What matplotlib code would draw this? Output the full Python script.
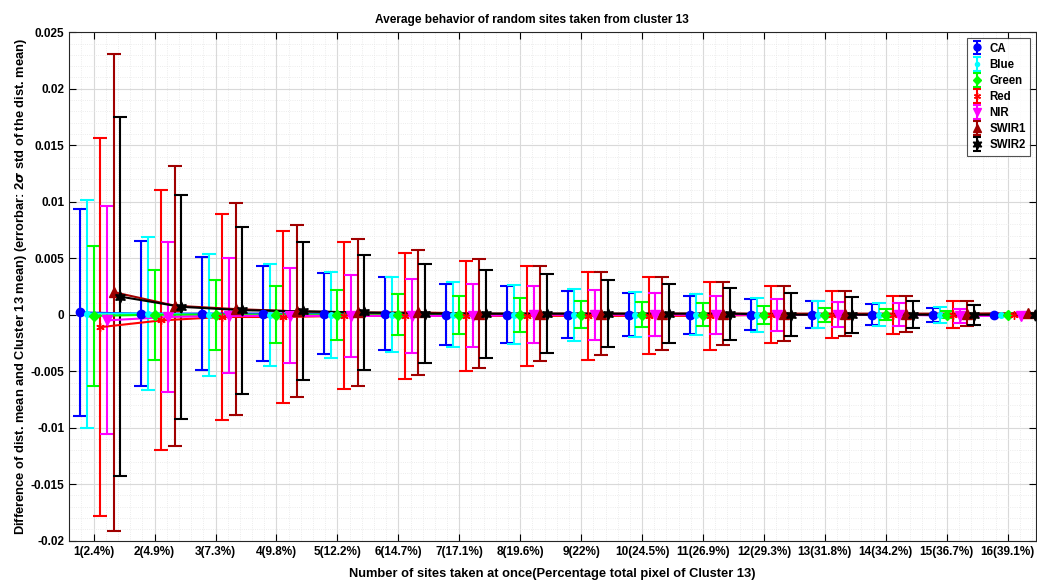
import matplotlib
matplotlib.use("Agg")
import matplotlib.pyplot as plt
import numpy as np
from matplotlib.ticker import MultipleLocator, FormatStrFormatter
from matplotlib.legend_handler import HandlerErrorbar

plt.rcParams['font.family'] = ['Liberation Sans', 'DejaVu Sans']
plt.rcParams['font.weight'] = 'bold'

# x tick labels: number of sites (percentage of cluster pixels)
tick_labels = ["1(2.4%)", "2(4.9%)", "3(7.3%)", "4(9.8%)", "5(12.2%)", "6(14.7%)",
               "7(17.1%)", "8(19.6%)", "9(22%)", "10(24.5%)", "11(26.9%)", "12(29.3%)",
               "13(31.8%)", "14(34.2%)", "15(36.7%)", "16(39.1%)"]
n_sites = np.arange(1, 17)

bands = ["CA", "Blue", "Green", "Red", "NIR", "SWIR1", "SWIR2"]

# mean difference per band
mean_ca = [0.0002, 0.0001, 0.0001, 0.0001, 0.0001, 0.0001, 0.0, 0.0, 0.0, 0.0, 0.0, 0.0, 0.0, 0.0, 0.0, 0.0]
mean_blue = [0.0001, 0.0001, 0.0, 0.0, 0.0, 0.0, 0.0, 0.0, 0.0, 0.0, 0.0, 0.0, 0.0, 0.0, 0.0, 0.0]
mean_green = [-0.0001, 0.0, 0.0, 0.0, 0.0, 0.0, 0.0, 0.0, 0.0, 0.0, 0.0, 0.0, 0.0, 0.0, 0.0, 0.0]
mean_red = [-0.0011, -0.0005, -0.0002, -0.0002, -0.0001, -0.0001, -0.0001, -0.0001, -0.0001,
            -0.0001, -0.0001, 0.0, 0.0, 0.0, 0.0, 0.0]
mean_nir = [-0.0005, -0.0002, -0.0001, -0.0001, -0.0001, -0.0001, -0.0001, 0.0, 0.0, 0.0,
            0.0, 0.0, 0.0, 0.0, -0.0001, -0.0001]
mean_swir1 = [0.0020, 0.0008, 0.0005, 0.0003, 0.0002, 0.0002, 0.0001, 0.0001, 0.0001, 0.0001,
              0.0001, 0.0001, 0.0001, 0.0001, 0.0001, 0.00015]
mean_swir2 = [0.0016, 0.0007, 0.0004, 0.0003, 0.0002, 0.0001, 0.0001, 0.0001, 0.0001, 0.0001,
              0.0001, 0.0, 0.0, 0.0, 0.0, 0.0]

# errorbar half widths (2 sigma)
err_ca = [0.0092, 0.0064, 0.0050, 0.0042, 0.0036, 0.0032, 0.0027, 0.0025, 0.0021, 0.0019,
          0.0017, 0.00135, 0.0012, 0.00095, 0.0006, 0.0]
err_blue = [0.0101, 0.0068, 0.0054, 0.0045, 0.0038, 0.0033, 0.0029, 0.0026, 0.0023, 0.0020,
            0.0018, 0.0015, 0.0012, 0.0010, 0.0007, 0.0]
err_green = [0.0062, 0.0040, 0.0031, 0.0025, 0.0022, 0.0018, 0.0017, 0.0015, 0.0012, 0.0011,
             0.0010, 0.0008, 0.0006, 0.0005, 0.0003, 0.0]
err_red = [0.0167, 0.0115, 0.0091, 0.0076, 0.0065, 0.0056, 0.0049, 0.0044, 0.0039, 0.0034,
           0.0030, 0.0025, 0.0021, 0.0017, 0.0012, 0.0]
err_nir = [0.0101, 0.0066, 0.0051, 0.0042, 0.0036, 0.0033, 0.0028, 0.0025, 0.0022, 0.0019,
           0.0017, 0.0014, 0.0011, 0.0010, 0.0006, 0.0]
err_swir1 = [0.0211, 0.0124, 0.0094, 0.0076, 0.0065, 0.0055, 0.0048, 0.0042, 0.0037, 0.0032,
             0.0028, 0.0024, 0.0020, 0.0016, 0.0011, 0.0]
err_swir2 = [0.0159, 0.0099, 0.0074, 0.0061, 0.0051, 0.0044, 0.0039, 0.0035, 0.0030, 0.0026,
             0.0023, 0.0019, 0.0016, 0.0012, 0.0009, 0.0]

means = [mean_ca, mean_blue, mean_green, mean_red, mean_nir, mean_swir1, mean_swir2]
errs = [err_ca, err_blue, err_green, err_red, err_nir, err_swir1, err_swir2]
colors = ['#0000ff', '#00ffff', '#00ff00', '#ff0000', '#ff00ff', '#a00000', '#000000']
markers = ['o', 'o', 'D', (6, 2, 0), 'v', '^', (6, 1, 0)]
msizes = [6, 4, 5, 6, 7, 7, 8]
offsets = [-0.22, -0.11, 0.0, 0.11, 0.22, 0.33, 0.44]

fig = plt.figure(figsize=(10.37, 5.81), dpi=100)
ax = fig.add_axes([0.0668, 0.0694, 0.932, 0.875])

for k in range(len(bands)):
    xs = n_sites + offsets[k]
    ax.errorbar(xs, means[k], yerr=errs[k], fmt='none', ecolor=colors[k],
                elinewidth=1.5, capsize=5, capthick=1.5, zorder=2)
    ax.plot(xs, means[k], '-', color=colors[k], lw=1.5, zorder=3)
for k in range(len(bands)):
    xs = n_sites + offsets[k]
    ax.plot(xs, means[k], ls='none', marker=markers[k], color=colors[k],
            mec=colors[k], ms=msizes[k], zorder=4)

# legend handles: vertical errorbar with marker
leg_handles = []
for k in range(len(bands)):
    c = ax.errorbar([np.nan], [np.nan], yerr=[np.nan], marker=markers[k], ls='none',
                    color=colors[k], ms=msizes[k] - 1, elinewidth=1.5, capsize=3, capthick=1.5)
    leg_handles.append(c)
leg = ax.legend(leg_handles, bands, loc='upper right', fontsize=8.3, frameon=True,
                fancybox=False, edgecolor='#262626', handlelength=0.9,
                borderpad=0.4, labelspacing=0.36, handletextpad=0.6,
                bbox_to_anchor=(0.9945, 0.989), borderaxespad=0,
                handler_map={type(leg_handles[0]): HandlerErrorbar(xerr_size=0.5, yerr_size=0.6)})
leg.get_frame().set_linewidth(0.8)

ax.set_xlim(0.6, 16.46)
ax.set_ylim(-0.02, 0.025)
ax.set_xticks(n_sites)
ax.set_xticklabels(tick_labels)
ax.yaxis.set_major_locator(MultipleLocator(0.005))
ax.yaxis.set_minor_locator(MultipleLocator(0.001))
ax.xaxis.set_minor_locator(MultipleLocator(0.2))
ax.yaxis.set_major_formatter(FormatStrFormatter('%g'))
ax.tick_params(which='both', direction='in', top=True, right=True, labelsize=8.5)
ax.tick_params(which='major', length=5, width=0.8)
ax.tick_params(which='minor', length=0)
ax.grid(which='major', color='#d9d9d9', lw=0.8, ls='-')
ax.grid(which='minor', color='#e6e6e6', lw=0.6, ls=':')
ax.set_axisbelow(True)
for s in ax.spines.values():
    s.set_color('#262626')
    s.set_linewidth(0.8)

ax.set_title("Average behavior of random sites taken from cluster 13", fontsize=8.6,
             fontweight='bold', pad=7, x=0.479)
ax.set_xlabel("Number of sites taken at once(Percentage total pixel of Cluster 13)",
              fontsize=9.3, fontweight='bold', labelpad=7.5)
ax.set_ylabel("Difference of dist. mean and Cluster 13 mean) (errorbar: 2$\\sigma$ std of the dist. mean)",
              fontsize=9.25, fontweight='bold', labelpad=1.5)

fig.savefig("out.png", dpi=100)
